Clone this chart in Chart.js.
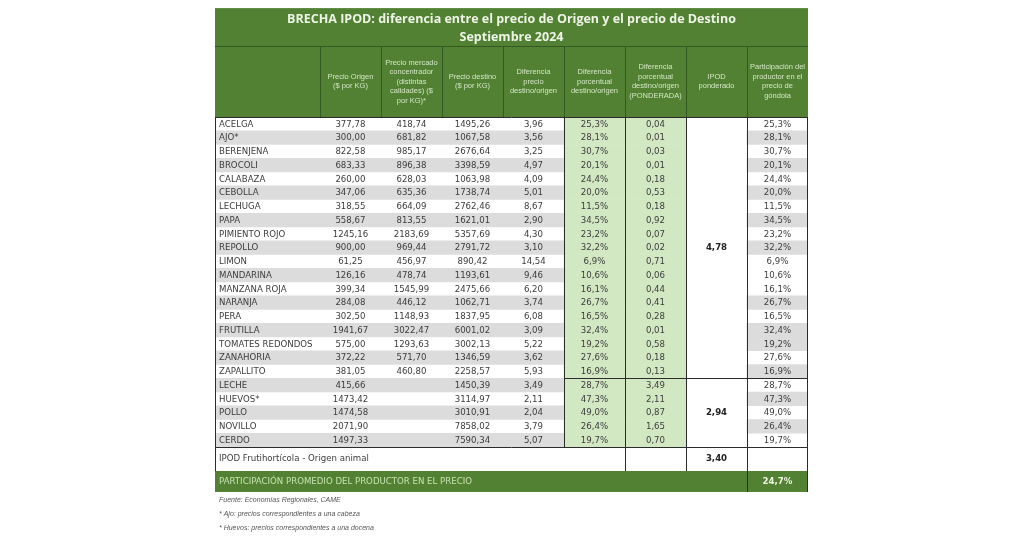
<!DOCTYPE html>
<html>
<head>
<meta charset="utf-8">
<script src="https://cdn.jsdelivr.net/npm/chart.js@4.4.1/dist/chart.umd.min.js"></script>
<style>
  html, body { margin: 0; padding: 0; background: #fff; }
  canvas { display: block; }
</style>
</head>
<body>
<canvas id="tabla" width="1024" height="538"></canvas>
<script>
// datos de la tabla (Septiembre 2024)
const productos = ['ACELGA', 'AJO*', 'BERENJENA', 'BROCOLI', 'CALABAZA', 'CEBOLLA', 'LECHUGA', 'PAPA',
  'PIMIENTO ROJO', 'REPOLLO', 'LIMON', 'MANDARINA', 'MANZANA ROJA', 'NARANJA', 'PERA', 'FRUTILLA',
  'TOMATES REDONDOS', 'ZANAHORIA', 'ZAPALLITO', 'LECHE', 'HUEVOS*', 'POLLO', 'NOVILLO', 'CERDO'];
const precioOrigen = [377.78, 300.00, 822.58, 683.33, 260.00, 347.06, 318.55, 558.67, 1245.16, 900.00,
  61.25, 126.16, 399.34, 284.08, 302.50, 1941.67, 575.00, 372.22, 381.05, 415.66, 1473.42, 1474.58, 2071.90, 1497.33];
const precioMercado = [418.74, 681.82, 985.17, 896.38, 628.03, 635.36, 664.09, 813.55, 2183.69, 969.44,
  456.97, 478.74, 1545.99, 446.12, 1148.93, 3022.47, 1293.63, 571.70, 460.80, null, null, null, null, null];
const precioDestino = [1495.26, 1067.58, 2676.64, 3398.59, 1063.98, 1738.74, 2762.46, 1621.01, 5357.69, 2791.72,
  890.42, 1193.61, 2475.66, 1062.71, 1837.95, 6001.02, 3002.13, 1346.59, 2258.57, 1450.39, 3114.97, 3010.91, 7858.02, 7590.34];
const difPrecio = [3.96, 3.56, 3.25, 4.97, 4.09, 5.01, 8.67, 2.90, 4.30, 3.10, 14.54, 9.46, 6.20, 3.74, 6.08, 3.09,
  5.22, 3.62, 5.93, 3.49, 2.11, 2.04, 3.79, 5.07];
const difPorcentual = [25.3, 28.1, 30.7, 20.1, 24.4, 20.0, 11.5, 34.5, 23.2, 32.2, 6.9, 10.6, 16.1, 26.7, 16.5, 32.4,
  19.2, 27.6, 16.9, 28.7, 47.3, 49.0, 26.4, 19.7];
const difPonderada = [0.04, 0.01, 0.03, 0.01, 0.18, 0.53, 0.18, 0.92, 0.07, 0.02, 0.71, 0.06, 0.44, 0.41, 0.28, 0.01,
  0.58, 0.18, 0.13, 3.49, 2.11, 0.87, 1.65, 0.70];
const participacion = [25.3, 28.1, 30.7, 20.1, 24.4, 20.0, 11.5, 34.5, 23.2, 32.2, 6.9, 10.6, 16.1, 26.7, 16.5, 32.4,
  19.2, 27.6, 16.9, 28.7, 47.3, 49.0, 26.4, 19.7];
const grupos = ['Frutihortícola', 'Origen animal'];
const grupoDesde = [0, 19];
const grupoHasta = [18, 23];
const ipodPonderado = [4.78, 2.94];
const ipodTotal = 3.40;
const participacionPromedio = 24.7;

const encabezados = [
  ['Precio Origen', '($ por KG)'],
  ['Precio mercado', 'concentrador', '(distintas', 'calidades) ($', 'por KG)*'],
  ['Precio destino', '($ por KG)'],
  ['Diferencia', 'precio', 'destino/origen'],
  ['Diferencia', 'porcentual', 'destino/origen'],
  ['Diferencia', 'porcentual', 'destino/origen', '(PONDERADA)'],
  ['IPOD', 'ponderado'],
  ['Participación del', 'productor en el', 'precio de', 'góndola']
];
const titulo = ['BRECHA IPOD: diferencia entre el precio de Origen y el precio de Destino', 'Septiembre 2024'];
const notas = ['Fuente: Economías Regionales, CAME', '* Ajo: precios correspondientes a una cabeza',
  '* Huevos: precios correspondientes a una docena'];

// layout (en unidades de columna / fila)
const bordes = [0, 1.72, 2.72, 3.72, 4.72, 5.72, 6.72, 7.72, 8.72, 9.72];
const filaTitulo = -8.42, filaEnc = -5.66, filaFinDatos = 23.5, filaIpod = 25.245, filaFin = 26.77;
const filaNotas = [27.35, 28.37, 29.39];
const grisDer = [1, 3, 5, 7, 9, 13, 15, 16, 18, 20, 22];

const VERDE = '#528133', VERDE_CLARO = '#d2e8c3', GRIS = '#dcdcdc', TEXTO = '#3c3c3c';

const fmt = v => v.toFixed(2).replace('.', ',');
const pct = v => v.toFixed(1).replace('.', ',') + '%';

const tablaPlugin = {
  id: 'tabla',
  afterDatasetsDraw(chart) {
    const ctx = chart.ctx;
    const x = chart.scales.x, y = chart.scales.y;
    const X = v => x.getPixelForValue(v);
    const Y = v => y.getPixelForValue(v);
    const cx = c => X((bordes[c] + bordes[c + 1]) / 2);
    const L = X(0), R = X(bordes[9]);

    ctx.save();
    // fondo verde de título, encabezado y fila final
    ctx.fillStyle = VERDE;
    ctx.fillRect(L, Y(filaTitulo), R - L, Y(-0.5) - Y(filaTitulo));
    ctx.fillRect(L, Y(filaIpod), R - L, Y(filaFin) - Y(filaIpod));

    // líneas del encabezado
    ctx.strokeStyle = '#335a1f';
    ctx.lineWidth = 1;
    ctx.beginPath();
    ctx.moveTo(L, Math.round(Y(filaEnc)) + 0.5); ctx.lineTo(R, Math.round(Y(filaEnc)) + 0.5);
    for (let c = 1; c < 9; c++) {
      const px = Math.round(X(bordes[c])) + 0.5;
      ctx.moveTo(px, Y(filaEnc)); ctx.lineTo(px, Y(-0.5));
    }
    ctx.stroke();

    // líneas de la tabla
    ctx.strokeStyle = '#2b2b2b';
    ctx.beginPath();
    const hl = (a, b, v) => { const py = Math.round(Y(v)) + 0.5; ctx.moveTo(X(a), py); ctx.lineTo(X(b), py); };
    const vl = (c, a, b) => { const px = Math.round(X(bordes[c])) + 0.5; ctx.moveTo(px, Y(a)); ctx.lineTo(px, Y(b)); };
    hl(0, bordes[9], -0.5);
    hl(bordes[5], bordes[9], grupoHasta[0] + 0.5);
    hl(0, bordes[9], filaFinDatos);
    [5, 6, 7, 8].forEach(c => vl(c, -0.5, filaFinDatos));
    [6, 7, 8].forEach(c => vl(c, filaFinDatos, filaIpod));
    vl(8, filaIpod, filaFin);
    ctx.moveTo(L + 0.5, Y(-0.5)); ctx.lineTo(L + 0.5, Y(filaIpod));
    ctx.moveTo(R - 0.5, Y(-0.5)); ctx.lineTo(R - 0.5, Y(filaFin));
    ctx.stroke();

    // título
    ctx.textAlign = 'center';
    ctx.textBaseline = 'middle';
    ctx.fillStyle = '#eef4e6';
    ctx.font = "bold 12.5px 'Open Sans', sans-serif";
    const tMid = (X(0) + X(bordes[9])) / 2;
    ctx.fillText(titulo[0], tMid, Y(filaTitulo) + 11);
    ctx.fillText(titulo[1], tMid, Y(filaTitulo) + 29.5);

    // encabezados de columna
    ctx.fillStyle = '#d3e6c4';
    ctx.font = "7.5px 'Liberation Sans', Arial, sans-serif";
    const encMid = (Y(filaEnc) + Y(-0.5)) / 2;
    encabezados.forEach((lineas, i) => {
      const top = encMid - (lineas.length - 1) * 9.5 / 2;
      lineas.forEach((t, k) => ctx.fillText(t, cx(i + 1), top + k * 9.5));
    });

    // filas de datos
    ctx.font = "8.6px 'DejaVu Sans', Verdana, sans-serif";
    ctx.fillStyle = TEXTO;
    productos.forEach((p, i) => {
      const py = Y(i) + 0.5;
      ctx.textAlign = 'left';
      ctx.fillText(p, L + 4, py);
      ctx.textAlign = 'center';
      ctx.fillText(fmt(precioOrigen[i]), cx(1), py);
      if (precioMercado[i] !== null) ctx.fillText(fmt(precioMercado[i]), cx(2), py);
      ctx.fillText(fmt(precioDestino[i]), cx(3), py);
      ctx.fillText(fmt(difPrecio[i]), cx(4), py);
      ctx.fillText(pct(difPorcentual[i]), cx(5), py);
      ctx.fillText(fmt(difPonderada[i]), cx(6), py);
      ctx.fillText(pct(participacion[i]), cx(8), py);
    });

    // IPOD ponderado por grupo
    ctx.font = "bold 8.6px 'DejaVu Sans', Verdana, sans-serif";
    ctx.fillStyle = '#222';
    grupos.forEach((g, k) => {
      const mid = Math.ceil((grupoDesde[k] + grupoHasta[k]) / 2);
      ctx.fillText(fmt(ipodPonderado[k]), cx(7), Y(mid) + 0.5);
    });
    const ipodY = (Y(filaFinDatos) + Y(filaIpod)) / 2;
    ctx.fillText(fmt(ipodTotal), cx(7), ipodY);

    ctx.font = "8.6px 'DejaVu Sans', Verdana, sans-serif";
    ctx.fillStyle = TEXTO;
    ctx.textAlign = 'left';
    ctx.fillText('IPOD ' + grupos.join(' - '), L + 4, ipodY);

    // fila de participación promedio
    const finY = (Y(filaIpod) + Y(filaFin)) / 2;
    ctx.fillStyle = '#c6e2b0';
    ctx.fillText('PARTICIPACIÓN PROMEDIO DEL PRODUCTOR EN EL PRECIO', L + 4, finY);
    ctx.textAlign = 'center';
    ctx.fillStyle = '#eef6e0';
    ctx.font = "bold 8.6px 'DejaVu Sans', Verdana, sans-serif";
    ctx.fillText(pct(participacionPromedio), cx(8), finY);

    // notas
    ctx.textAlign = 'left';
    ctx.fillStyle = '#555';
    ctx.font = "italic 7px 'Liberation Sans', Arial, sans-serif";
    notas.forEach((n, k) => ctx.fillText(n, L + 4, Y(filaNotas[k])));
    ctx.restore();
  }
};

const filasGrises = productos.map((p, i) => i % 2 === 1 ? [0, bordes[5]] : null);
const filasGrisesDer = productos.map((p, i) => grisDer.includes(i) ? [bordes[8], bordes[9]] : null);
const columnasVerdes = productos.map(() => [bordes[5], bordes[7]]);

new Chart(document.getElementById('tabla'), {
  type: 'bar',
  data: {
    labels: productos,
    datasets: [
      { data: filasGrises, backgroundColor: GRIS },
      { data: filasGrisesDer, backgroundColor: GRIS },
      { data: columnasVerdes, backgroundColor: VERDE_CLARO }
    ]
  },
  options: {
    indexAxis: 'y',
    responsive: false,
    animation: false,
    devicePixelRatio: 1,
    layout: { padding: { left: 215, right: 216, top: 117, bottom: 91 } },
    datasets: { bar: { grouped: false, barPercentage: 1, categoryPercentage: 1, borderWidth: 0 } },
    scales: {
      x: { type: 'linear', min: 0, max: bordes[9], display: false },
      y: { type: 'category', display: false }
    },
    plugins: { legend: { display: false }, tooltip: { enabled: false } }
  },
  plugins: [tablaPlugin]
});
</script>
</body>
</html>
